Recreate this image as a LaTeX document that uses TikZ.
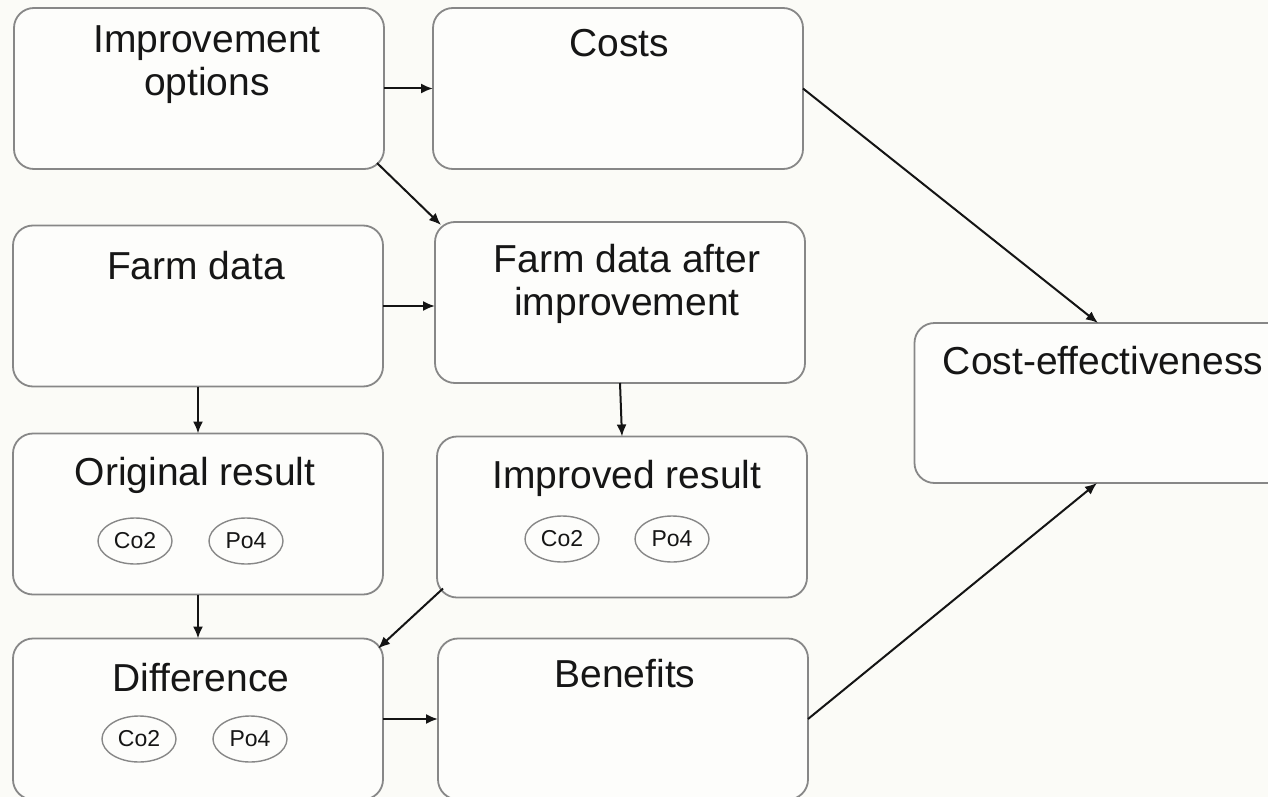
\documentclass[tikz,border=0pt]{standalone}
\usepackage{fontspec}
\setmainfont{Liberation Sans}
\usetikzlibrary{shapes.geometric,arrows.meta,calc}
\definecolor{bgc}{RGB}{251,251,247}
\definecolor{boxfill}{RGB}{253,253,251}
\definecolor{boxline}{RGB}{135,135,135}
\definecolor{txt}{RGB}{22,22,22}
\begin{document}
\begin{tikzpicture}[x=1pt,y=-1pt,
  box/.style={draw=boxline,line width=1.8pt,fill=boxfill,rounded corners=20pt,
    minimum width=370pt,minimum height=161pt,inner sep=0pt,outer sep=0pt},
  title/.style={anchor=base,inner sep=0pt,text=txt,font=\fontsize{39}{43}\selectfont},
  gas/.style={draw=boxline,line width=1.4pt,ellipse,minimum width=74pt,minimum height=46pt,
    inner sep=0pt,text=txt,font=\fontsize{23}{26}\selectfont},
  conn/.style={draw=black!92,line width=2pt,-{Latex[length=12pt,width=10pt]}}
]
\fill[bgc] (0,0) rectangle (1268,797);
\useasboundingbox (0,0) rectangle (1268,797);

% boxes
\node[box] (io)    at (199,88.5) {};
\node[box] (costs) at (618,88.5) {};
\node[box] (fd)    at (198,306) {};
\node[box] (fda)   at (620,302.5) {};
\node[box] (orig)  at (198,514) {};
\node[box] (ir)    at (622,517) {};
\node[box] (diff)  at (198,719) {};
\node[box] (ben)   at (623,719) {};
\node[box,minimum width=375pt,minimum height=160pt] (ce) at (1102,403) {};

% titles
\node[title] (tio1) at (207,53) {Improvement};
\node[title] (tio2) at (207,96) {options};
\node[title] (tcosts) at (619,57) {Costs};
\node[title] (tfd) at (196,279) {Farm data};
\node[title] (tfda1) at (627,272) {Farm data after};
\node[title] (tfda2) at (627,315) {improvement};
\node[title] (torig) at (195,485) {Original result};
\node[title] (tir) at (627,488) {Improved result};
\node[title] (tdiff) at (201,691) {Difference};
\node[title] (tben) at (625,687) {Benefits};
\node[title] (tce) at (1103,374) {Cost-effectiveness};

% ellipses
\node[gas] (oco) at (135,541) {Co2};
\node[gas] (opo) at (246,541) {Po4};
\node[gas] (ico) at (562,539) {Co2};
\node[gas] (ipo) at (672,539) {Po4};
\node[gas] (dco) at (139,739) {Co2};
\node[gas] (dpo) at (250,739) {Po4};

% connectors
\draw[conn] (io.east) -- (costs.west);
\draw[conn] ($(io.south east)+(-7,-6)$) -- ($(fda.north west)+(6,3)$);
\draw[conn] (fd.east) -- (fd.east -| fda.west);
\draw[conn] (fd.south) -- (orig.north);
\draw[conn] (fda.south) -- (ir.north);
\draw[conn] (orig.south) -- (diff.north);
\draw[conn] ($(ir.south west)+(6,-9)$) -- ($(diff.north east)+(-5,10)$);
\draw[conn] (diff.east) -- (ben.west);
\draw[conn] (costs.east) -- ($(ce.north)+(-4,0)$);
\draw[conn] (ben.east) -- ($(ce.south)+(-5,0)$);
\end{tikzpicture}
\end{document}
